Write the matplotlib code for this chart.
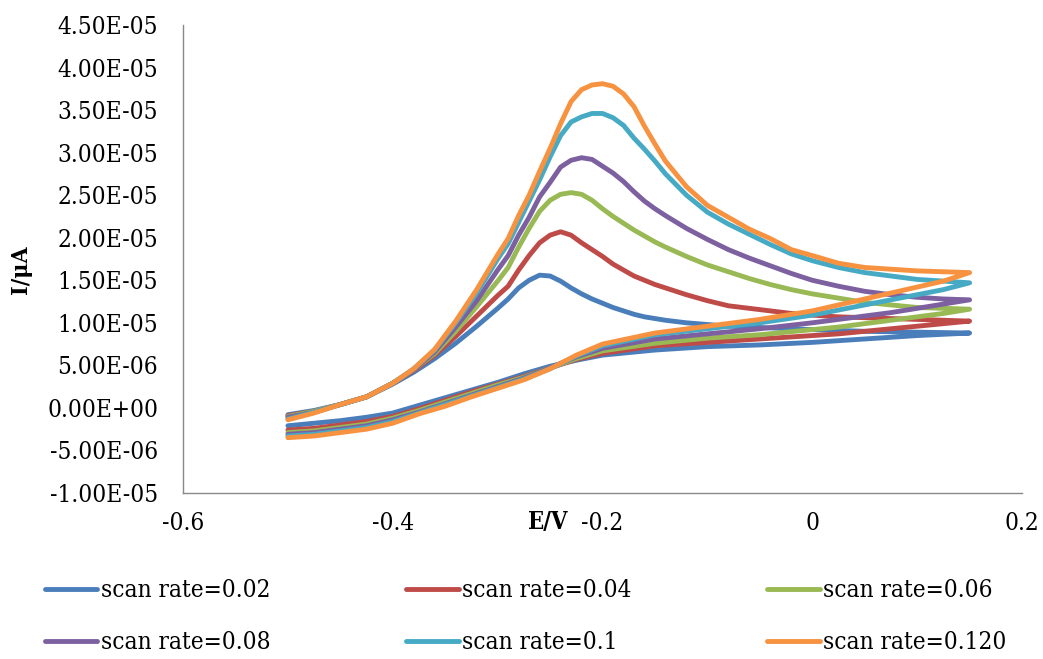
import matplotlib
matplotlib.use('Agg')
import matplotlib.pyplot as plt
from matplotlib.ticker import FuncFormatter, MultipleLocator

# potential on the forward (anodic) sweep and on the return sweep, V
e_forward = [-0.50, -0.475, -0.45, -0.425, -0.40, -0.38, -0.36, -0.34, -0.32, -0.30,
             -0.29, -0.28, -0.27, -0.26, -0.25, -0.24, -0.23, -0.22, -0.21, -0.20,
             -0.19, -0.18, -0.17, -0.16, -0.15, -0.14, -0.12, -0.10, -0.08, -0.06,
             -0.04, -0.02, 0.00, 0.025, 0.05, 0.075, 0.10, 0.125, 0.15]
e_back = [0.15, 0.125, 0.10, 0.075, 0.05, 0.025, 0.00, -0.05, -0.10, -0.15, -0.20,
          -0.225, -0.25, -0.275, -0.30, -0.325, -0.35, -0.375, -0.40, -0.425, -0.45,
          -0.475, -0.50]

labels = ['scan rate=0.02', 'scan rate=0.04', 'scan rate=0.06',
          'scan rate=0.08', 'scan rate=0.1', 'scan rate=0.120']
colors = ['#4A7EBB', '#BE4B48', '#98B954', '#7D60A0', '#46AAC5', '#F69240']

# currents in units of 1e-6 A
i_fwd_002 = [-0.8, -0.3, 0.4, 1.3, 2.8, 4.2, 5.8, 7.6, 9.6, 11.7, 12.8, 14.1, 15.0, 15.6,
             15.5, 14.9, 14.1, 13.4, 12.8, 12.3, 11.8, 11.4, 11.0, 10.7, 10.5, 10.3, 10.0,
             9.8, 9.6, 9.5, 9.4, 9.3, 9.2, 9.1, 9.0, 8.95, 8.9, 8.85, 8.8]
i_fwd_004 = [-0.9, -0.4, 0.4, 1.3, 2.9, 4.4, 6.2, 8.4, 10.8, 13.2, 14.3, 16.2, 17.9, 19.4,
             20.3, 20.7, 20.3, 19.4, 18.6, 17.8, 16.9, 16.2, 15.5, 15.0, 14.5, 14.1, 13.3,
             12.6, 12.0, 11.7, 11.4, 11.1, 10.9, 10.7, 10.6, 10.5, 10.4, 10.3, 10.2]
i_fwd_006 = [-1.0, -0.4, 0.4, 1.3, 2.9, 4.5, 6.4, 9.0, 11.9, 14.9, 16.5, 18.9, 21.1, 23.1,
             24.4, 25.1, 25.3, 25.1, 24.4, 23.4, 22.5, 21.7, 20.9, 20.2, 19.5, 18.9, 17.8,
             16.8, 16.0, 15.2, 14.5, 13.9, 13.4, 12.9, 12.4, 12.1, 11.8, 11.7, 11.6]
i_fwd_008 = [-1.1, -0.5, 0.4, 1.3, 2.9, 4.5, 6.6, 9.5, 12.6, 16.2, 17.9, 20.3, 22.4, 24.8,
             26.5, 28.3, 29.1, 29.4, 29.2, 28.4, 27.6, 26.6, 25.4, 24.3, 23.4, 22.6, 21.1,
             19.8, 18.6, 17.6, 16.7, 15.8, 15.0, 14.3, 13.7, 13.3, 13.0, 12.8, 12.7]
i_fwd_010 = [-1.3, -0.5, 0.4, 1.3, 2.9, 4.6, 6.8, 10.0, 13.5, 17.5, 19.3, 21.8, 24.3, 26.8,
             29.5, 32.0, 33.6, 34.2, 34.6, 34.6, 34.1, 33.2, 31.7, 30.4, 29.0, 27.5, 25.0,
             23.0, 21.6, 20.4, 19.2, 18.1, 17.3, 16.5, 15.9, 15.5, 15.1, 14.9, 14.7]
i_fwd_012 = [-1.4, -0.6, 0.4, 1.3, 2.9, 4.6, 6.9, 10.2, 13.9, 18.0, 19.9, 22.6, 25.0, 27.8,
             30.5, 33.4, 36.0, 37.4, 37.95, 38.1, 37.8, 36.9, 35.4, 33.1, 31.0, 29.0, 26.0,
             23.8, 22.4, 21.0, 19.9, 18.6, 17.9, 17.0, 16.5, 16.3, 16.1, 16.0, 15.9]

i_back_002 = [8.8, 8.65, 8.5, 8.3, 8.1, 7.9, 7.7, 7.4, 7.2, 6.8, 6.2, 5.6, 4.9, 4.0, 3.0,
              2.1, 1.2, 0.3, -0.6, -1.1, -1.5, -1.8, -2.1]
i_back_004 = [10.2, 9.9, 9.6, 9.3, 9.0, 8.7, 8.5, 8.1, 7.7, 7.3, 6.4, 5.7, 4.7, 3.7, 2.8,
              1.9, 0.9, -0.1, -1.0, -1.6, -2.0, -2.4, -2.6]
i_back_006 = [11.6, 11.1, 10.7, 10.3, 9.9, 9.5, 9.2, 8.6, 8.2, 7.6, 6.7, 5.8, 4.7, 3.6, 2.7,
              1.7, 0.7, -0.3, -1.2, -1.9, -2.3, -2.7, -2.9]
i_back_008 = [12.7, 12.2, 11.7, 11.2, 10.8, 10.4, 10.0, 9.3, 8.7, 8.1, 7.0, 6.0, 4.7, 3.5,
              2.5, 1.5, 0.5, -0.5, -1.4, -2.1, -2.5, -2.9, -3.1]
i_back_010 = [14.7, 13.9, 13.3, 12.7, 12.1, 11.5, 10.9, 10.0, 9.3, 8.6, 7.3, 6.1, 4.6, 3.4,
              2.4, 1.4, 0.4, -0.6, -1.6, -2.3, -2.7, -3.1, -3.3]
i_back_012 = [15.9, 14.9, 14.2, 13.5, 12.8, 12.1, 11.4, 10.4, 9.6, 8.8, 7.5, 6.2, 4.6, 3.3,
              2.3, 1.3, 0.2, -0.7, -1.8, -2.5, -2.9, -3.3, -3.5]

forward = [i_fwd_002, i_fwd_004, i_fwd_006, i_fwd_008, i_fwd_010, i_fwd_012]
back = [i_back_002, i_back_004, i_back_006, i_back_008, i_back_010, i_back_012]

plt.rcParams['font.family'] = ['DejaVu Serif']
plt.rcParams['font.stretch'] = 'condensed'

fig = plt.figure(figsize=(10.43, 6.59), dpi=100)
ax = fig.add_axes([0.1755, 0.2519, 0.8044, 0.7102])

lines = []
for fw, bk, lab, col in zip(forward, back, labels, colors):
    e = e_forward + e_back[1:]
    cur = [v * 1e-6 for v in fw + bk[1:]]
    ln, = ax.plot(e, cur, color=col, lw=3.5, label=lab, solid_capstyle='round',
                  solid_joinstyle='round')
    lines.append(ln)

ax.set_xlim(-0.6, 0.2)
ax.set_ylim(-1e-5, 4.5e-5)
ax.xaxis.set_major_locator(MultipleLocator(0.2))
ax.yaxis.set_major_locator(MultipleLocator(5e-6))
ax.yaxis.set_major_formatter(FuncFormatter(lambda v, p: f'{v:.2E}'))
ax.xaxis.set_major_formatter(FuncFormatter(lambda v, p: '0' if abs(v) < 1e-9 else f'{v:.1f}'))
ax.tick_params(length=0)
ax.tick_params(axis='y', pad=18, labelsize=17.5)
ax.tick_params(axis='x', pad=14, labelsize=17.5)
for s in ['top', 'right']:
    ax.spines[s].set_visible(False)
for s in ['left', 'bottom']:
    ax.spines[s].set_color('#898989')
    ax.spines[s].set_linewidth(1.0)

ax.set_xlabel('E/V', fontsize=17, fontweight='bold')
ax.xaxis.set_label_coords(0.435, -0.036)
ax.set_ylabel('I/μA', fontsize=16.5, fontweight='bold')
ax.yaxis.set_label_coords(-0.18, 0.476)

# legend is filled row by row in the reference
order = [0, 3, 1, 4, 2, 5]
fig.legend([lines[k] for k in order], [labels[k] for k in order],
           loc='center', bbox_to_anchor=(0.504, 0.064), ncol=3, frameon=False,
           prop={'size': 17.5}, handlelength=2.15, handletextpad=0.13,
           columnspacing=5.6, labelspacing=1.2)

fig.savefig('out.png', dpi=100)
